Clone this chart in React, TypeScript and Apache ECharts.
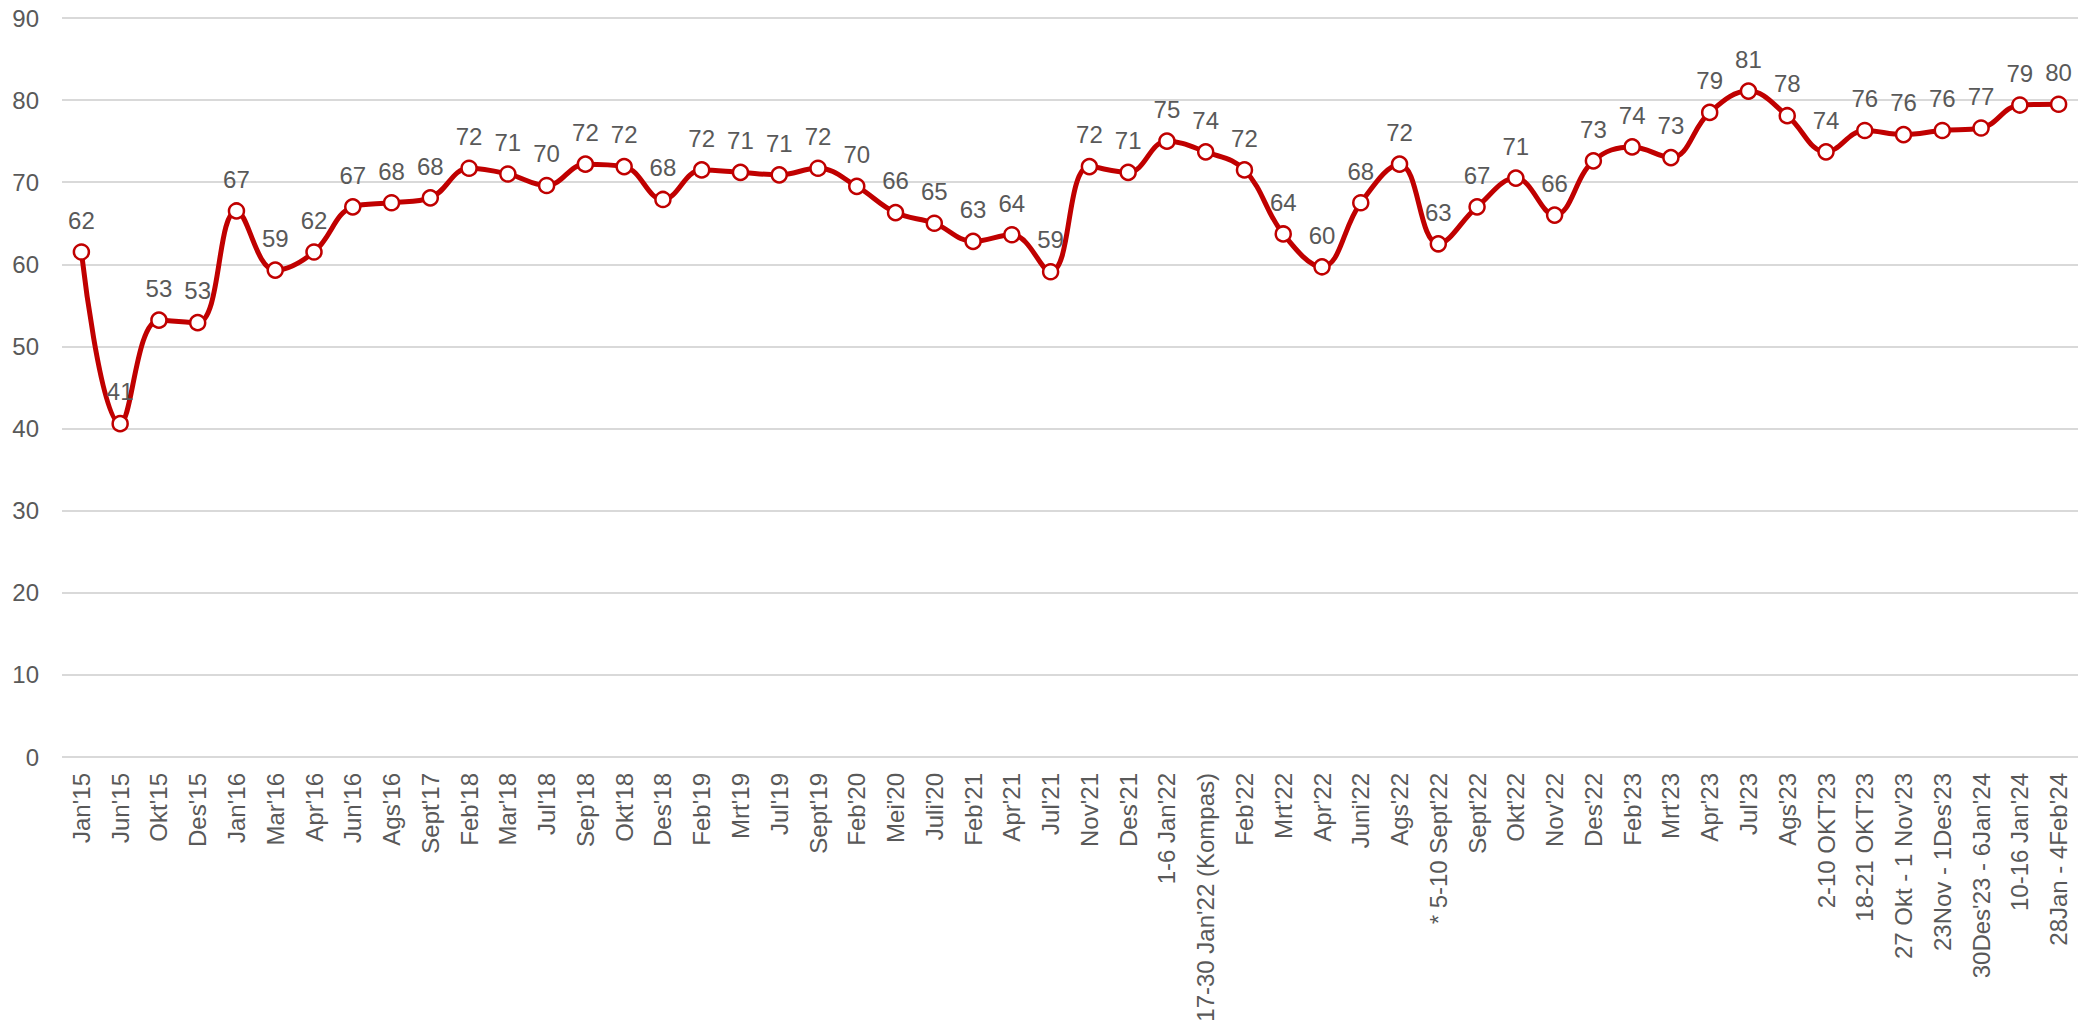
import React, { useEffect, useRef } from "react";
import * as echarts from "echarts";

const categories: string[] = [
  "Jan'15", "Jun'15", "Okt'15", "Des'15", "Jan'16", "Mar'16", "Apr'16", "Jun'16", "Ags'16", "Sept'17",
  "Feb'18", "Mar'18", "Jul'18", "Sep'18", "Okt'18", "Des'18", "Feb'19", "Mrt'19", "Jul'19", "Sept'19",
  "Feb'20", "Mei'20", "Juli'20", "Feb'21", "Apr'21", "Jul'21", "Nov'21", "Des'21", "1-6 Jan'22",
  "17-30 Jan'22 (Kompas)", "Feb'22", "Mrt'22", "Apr'22", "Juni'22", "Ags'22", "* 5-10 Sept'22", "Sept'22",
  "Okt'22", "Nov'22", "Des'22", "Feb'23", "Mrt'23", "Apr'23", "Jul'23", "Ags'23", "2-10 OKT'23",
  "18-21 OKT'23", "27 Okt - 1 Nov'23", "23Nov - 1Des'23", "30Des'23 - 6Jan'24", "10-16 Jan'24",
  "28Jan - 4Feb'24",
];

const values: number[] = [
  61.5, 40.6, 53.2, 52.9, 66.5, 59.3, 61.5, 67.0, 67.5, 68.1,
  71.7, 71.0, 69.6, 72.2, 71.9, 67.9, 71.5, 71.2, 70.9, 71.7,
  69.5, 66.3, 65.0, 62.8, 63.6, 59.1, 71.9, 71.2, 75.0,
  73.7, 71.5, 63.7, 59.7, 67.5, 72.2, 62.5, 67.0,
  70.5, 66.0, 72.6, 74.3, 73.0, 78.5, 81.1, 78.1, 73.7,
  76.3, 75.8, 76.3, 76.6, 79.4,
  79.5,
];

const yTicks = { min: 0, max: 90, interval: 10 };

const FONT = "'Liberation Sans', Arial, sans-serif";
const TEXT = "#595959";
const RED = "#C00000";

export default function App() {
  const ref = useRef<HTMLDivElement>(null);
  useEffect(() => {
    if (!ref.current) return;
    const chart = echarts.init(ref.current, undefined, { renderer: "svg" });
    chart.setOption({
      animation: false,
      backgroundColor: "#ffffff",
      grid: { left: 62, right: 11, top: 18, bottom: 277, containLabel: false },
      xAxis: {
        type: "category",
        data: categories,
        boundaryGap: true,
        axisLine: { show: false },
        axisTick: { show: false },
        axisLabel: {
          interval: 0,
          rotate: 90,
          margin: 16,
          color: TEXT,
          fontSize: 24,
          fontFamily: FONT,
        },
      },
      yAxis: {
        type: "value",
        min: yTicks.min,
        max: yTicks.max,
        interval: yTicks.interval,
        axisLine: { show: false },
        axisTick: { show: false },
        splitLine: { lineStyle: { color: "#d9d9d9", width: 2 } },
        axisLabel: { margin: 23, color: TEXT, fontSize: 24, fontFamily: FONT },
      },
      series: [
        {
          type: "line",
          data: values,
          smooth: 0.4,
          lineStyle: { color: RED, width: 5 },
          symbol: "circle",
          symbolSize: 15,
          itemStyle: { color: "#ffffff", borderColor: RED, borderWidth: 2.5 },
          label: {
            show: true,
            position: "top",
            distance: 11,
            color: TEXT,
            fontSize: 24,
            fontFamily: FONT,
            formatter: (p: any) => String(Math.round(p.value)),
          },
          z: 3,
        },
      ],
    });
    return () => chart.dispose();
  }, []);
  return (
    <div
      ref={ref}
      style={{ position: "fixed", left: 0, top: 0, width: 2089, height: 1034, background: "#fff" }}
    />
  );
}
